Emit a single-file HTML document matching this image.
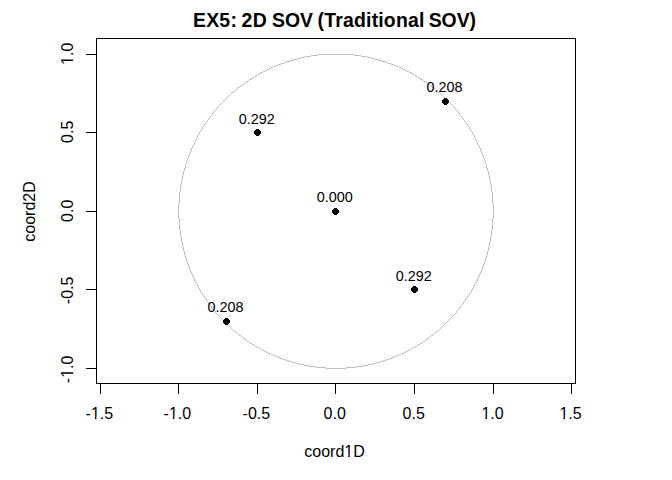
<!DOCTYPE html>
<html><head><meta charset="utf-8">
<style>
html,body{margin:0;padding:0;background:#fff;}
svg{display:block;}
text{font-family:"Liberation Sans",Arial,sans-serif;fill:#000;}
</style></head>
<body>
<svg width="672" height="480" viewBox="0 0 672 480">
<rect x="0" y="0" width="672" height="480" fill="#fff"/>
<g font-size="19.45" font-weight="bold">
<text x="192.93" y="27" textLength="43.97" lengthAdjust="spacing">EX5:</text>
<text x="241.53" y="27" textLength="25.36" lengthAdjust="spacing">2D</text>
<text x="272.04" y="27">SOV</text>
<text x="317.6" y="27" textLength="106.77" lengthAdjust="spacing">(Traditional</text>
<text x="428.74" y="27" textLength="47.28" lengthAdjust="spacing">SOV)</text>
</g>
<g shape-rendering="crispEdges" stroke="#000" stroke-width="1" fill="none">
<rect x="96.5" y="38.5" width="479" height="345"/>
<path d="M100.5 384V394M178.5 384V394M257.5 384V394M335.5 384V394M414.5 384V394M493.5 384V394M571.5 384V394"/>
<path d="M86 54.5H96M86 132.5H96M86 211.5H96M86 289.5H96M86 368.5H96"/>
</g>
<g font-size="16" text-anchor="middle">
<text x="99.4" y="419">-1.5</text>
<text x="177.4" y="419">-1.0</text>
<text x="256.4" y="419">-0.5</text>
<text x="334.7" y="419">0.0</text>
<text x="413.7" y="419">0.5</text>
<text x="492.6" y="419">1.0</text>
<text x="570.6" y="419">1.5</text>
<text x="334.5" y="457">coord1D</text>
</g>
<g font-size="16" text-anchor="middle">
<text transform="translate(73,53.8) rotate(-90)">1.0</text>
<text transform="translate(73,131.8) rotate(-90)">0.5</text>
<text transform="translate(73,210.8) rotate(-90)">0.0</text>
<text transform="translate(73,290.4) rotate(-90)">-0.5</text>
<text transform="translate(73,369.4) rotate(-90)">-1.0</text>
<text transform="translate(35,211.5) rotate(-90)">coord2D</text>
</g>
<g fill="#fff" id="feet">
<path d="M90.78 416.70H94.88V420.00H90.78ZM96.45 416.70H100.31V420.00H96.45Z"/>
<path d="M168.78 416.70H172.88V420.00H168.78ZM174.45 416.70H178.31V420.00H174.45Z"/>
<path d="M481.32 416.70H485.42V420.00H481.32ZM486.99 416.70H490.85V420.00H486.99Z"/>
<path d="M559.32 416.70H563.42V420.00H559.32ZM564.99 416.70H568.85V420.00H564.99Z"/>
<path d="M344.12 454.70H348.22V458.00H344.12ZM349.79 454.70H353.65V458.00H349.79Z"/>
<path transform="translate(73,53.8) rotate(-90)" d="M-11.28 -2.30H-7.18V1.00H-11.28ZM-5.61 -2.30H-1.75V1.00H-5.61Z"/>
<path transform="translate(73,369.4) rotate(-90)" d="M-8.62 -2.30H-4.52V1.00H-8.62ZM-2.95 -2.30H0.91V1.00H-2.95Z"/>
</g>
<path fill="#bebebe" shape-rendering="crispEdges" d="M318 54h36v1h-36zM311 55h7v1h-7zM354 55h7v1h-7zM305 56h6v1h-6zM361 56h6v1h-6zM301 57h4v1h-4zM367 57h4v1h-4zM297 58h4v1h-4zM371 58h4v1h-4zM293 59h4v1h-4zM375 59h4v1h-4zM290 60h3v1h-3zM379 60h3v1h-3zM286 61h4v1h-4zM382 61h4v1h-4zM284 62h2v1h-2zM386 62h2v1h-2zM281 63h3v1h-3zM388 63h3v1h-3zM278 64h3v1h-3zM391 64h3v1h-3zM276 65h2v1h-2zM394 65h2v1h-2zM273 66h3v1h-3zM396 66h3v1h-3zM271 67h2v1h-2zM399 67h2v1h-2zM269 68h2v1h-2zM401 68h2v1h-2zM267 69h2v1h-2zM403 69h2v1h-2zM265 70h2v1h-2zM405 70h2v1h-2zM263 71h2v1h-2zM407 71h2v1h-2zM261 72h2v1h-2zM409 72h2v1h-2zM259 73h2v1h-2zM411 73h2v1h-2zM258 74h1v1h-1zM413 74h1v1h-1zM256 75h2v1h-2zM414 75h2v1h-2zM254 76h2v1h-2zM416 76h2v1h-2zM253 77h1v1h-1zM418 77h1v1h-1zM251 78h2v1h-2zM419 78h2v1h-2zM249 79h2v1h-2zM421 79h2v1h-2zM248 80h1v1h-1zM423 80h1v1h-1zM246 81h2v1h-2zM424 81h2v1h-2zM245 82h1v1h-1zM426 82h1v1h-1zM244 83h1v1h-1zM427 83h1v1h-1zM242 84h2v1h-2zM428 84h2v1h-2zM241 85h1v1h-1zM430 85h1v1h-1zM240 86h1v1h-1zM431 86h1v1h-1zM238 87h2v1h-2zM432 87h2v1h-2zM237 88h1v1h-1zM434 88h1v1h-1zM236 89h1v1h-1zM435 89h1v1h-1zM235 90h1v1h-1zM436 90h1v1h-1zM234 91h1v1h-1zM437 91h1v1h-1zM232 92h2v1h-2zM438 92h2v1h-2zM231 93h1v1h-1zM440 93h1v1h-1zM230 94h1v1h-1zM441 94h1v1h-1zM229 95h1v1h-1zM442 95h1v1h-1zM228 96h1v1h-1zM443 96h1v1h-1zM227 97h1v1h-1zM444 97h1v1h-1zM226 98h1v1h-1zM445 98h1v1h-1zM225 99h1v1h-1zM446 99h1v1h-1zM224 100h1v1h-1zM447 100h1v1h-1zM223 101h1v1h-1zM448 101h1v1h-1zM222 102h1v1h-1zM449 102h1v1h-1zM221 103h1v1h-1zM450 103h1v1h-1zM220 104h1v1h-1zM451 104h1v1h-1zM219 105h1v1h-1zM452 105h1v1h-1zM218 106h1v1h-1zM453 106h1v1h-1zM217 107h1v1h-1zM454 107h1v1h-1zM217 108h1v1h-1zM454 108h1v1h-1zM216 109h1v1h-1zM455 109h1v1h-1zM215 110h1v1h-1zM456 110h1v1h-1zM214 111h1v1h-1zM457 111h1v1h-1zM213 112h1v1h-1zM458 112h1v1h-1zM212 113h1v1h-1zM459 113h1v1h-1zM212 114h1v1h-1zM459 114h1v1h-1zM211 115h1v1h-1zM460 115h1v1h-1zM210 116h1v1h-1zM461 116h1v1h-1zM209 117h1v1h-1zM462 117h1v1h-1zM209 118h1v1h-1zM462 118h1v1h-1zM208 119h1v1h-1zM463 119h1v1h-1zM207 120h1v1h-1zM464 120h1v1h-1zM206 121h1v1h-1zM465 121h1v1h-1zM206 122h1v1h-1zM465 122h1v1h-1zM205 123h1v1h-1zM466 123h1v1h-1zM204 124h1v1h-1zM467 124h1v1h-1zM204 125h1v1h-1zM467 125h1v1h-1zM203 126h1v1h-1zM468 126h1v1h-1zM202 127h1v1h-1zM469 127h1v1h-1zM202 128h1v1h-1zM469 128h1v1h-1zM201 129h1v1h-1zM470 129h1v1h-1zM201 130h1v1h-1zM470 130h1v1h-1zM200 131h1v1h-1zM471 131h1v1h-1zM199 132h1v1h-1zM472 132h1v1h-1zM199 133h1v1h-1zM472 133h1v1h-1zM198 134h1v1h-1zM473 134h1v1h-1zM198 135h1v1h-1zM473 135h1v1h-1zM197 136h1v1h-1zM474 136h1v1h-1zM197 137h1v1h-1zM474 137h1v1h-1zM196 138h1v1h-1zM475 138h1v1h-1zM196 139h1v1h-1zM475 139h1v1h-1zM195 140h1v1h-1zM476 140h1v1h-1zM195 141h1v1h-1zM476 141h1v1h-1zM194 142h1v1h-1zM477 142h1v1h-1zM194 143h1v1h-1zM477 143h1v1h-1zM193 144h1v1h-1zM478 144h1v1h-1zM193 145h1v1h-1zM478 145h1v1h-1zM192 146h1v1h-1zM479 146h1v1h-1zM192 147h1v1h-1zM479 147h1v1h-1zM191 148h1v1h-1zM480 148h1v1h-1zM191 149h1v1h-1zM480 149h1v1h-1zM191 150h1v1h-1zM480 150h1v1h-1zM190 151h1v1h-1zM481 151h1v1h-1zM190 152h1v1h-1zM481 152h1v1h-1zM189 153h1v1h-1zM482 153h1v1h-1zM189 154h1v1h-1zM482 154h1v1h-1zM189 155h1v1h-1zM482 155h1v1h-1zM188 156h1v1h-1zM483 156h1v1h-1zM188 157h1v1h-1zM483 157h1v1h-1zM187 158h1v1h-1zM484 158h1v1h-1zM187 159h1v1h-1zM484 159h1v1h-1zM187 160h1v1h-1zM484 160h1v1h-1zM186 161h1v1h-1zM485 161h1v1h-1zM186 162h1v1h-1zM485 162h1v1h-1zM186 163h1v1h-1zM485 163h1v1h-1zM185 164h1v1h-1zM486 164h1v1h-1zM185 165h1v1h-1zM486 165h1v1h-1zM185 166h1v1h-1zM486 166h1v1h-1zM185 167h1v1h-1zM486 167h1v1h-1zM184 168h1v1h-1zM487 168h1v1h-1zM184 169h1v1h-1zM487 169h1v1h-1zM184 170h1v1h-1zM487 170h1v1h-1zM183 171h1v1h-1zM488 171h1v1h-1zM183 172h1v1h-1zM488 172h1v1h-1zM183 173h1v1h-1zM488 173h1v1h-1zM183 174h1v1h-1zM488 174h1v1h-1zM182 175h1v1h-1zM489 175h1v1h-1zM182 176h1v1h-1zM489 176h1v1h-1zM182 177h1v1h-1zM489 177h1v1h-1zM182 178h1v1h-1zM489 178h1v1h-1zM182 179h1v1h-1zM489 179h1v1h-1zM181 180h1v1h-1zM490 180h1v1h-1zM181 181h1v1h-1zM490 181h1v1h-1zM181 182h1v1h-1zM490 182h1v1h-1zM181 183h1v1h-1zM490 183h1v1h-1zM181 184h1v1h-1zM490 184h1v1h-1zM180 185h1v1h-1zM491 185h1v1h-1zM180 186h1v1h-1zM491 186h1v1h-1zM180 187h1v1h-1zM491 187h1v1h-1zM180 188h1v1h-1zM491 188h1v1h-1zM180 189h1v1h-1zM491 189h1v1h-1zM180 190h1v1h-1zM491 190h1v1h-1zM180 191h1v1h-1zM491 191h1v1h-1zM179 192h1v1h-1zM492 192h1v1h-1zM179 193h1v1h-1zM492 193h1v1h-1zM179 194h1v1h-1zM492 194h1v1h-1zM179 195h1v1h-1zM492 195h1v1h-1zM179 196h1v1h-1zM492 196h1v1h-1zM179 197h1v1h-1zM492 197h1v1h-1zM179 198h1v1h-1zM492 198h1v1h-1zM179 199h1v1h-1zM492 199h1v1h-1zM179 200h1v1h-1zM492 200h1v1h-1zM179 201h1v1h-1zM492 201h1v1h-1zM179 202h1v1h-1zM492 202h1v1h-1zM179 203h1v1h-1zM492 203h1v1h-1zM178 204h1v1h-1zM493 204h1v1h-1zM178 205h1v1h-1zM493 205h1v1h-1zM178 206h1v1h-1zM493 206h1v1h-1zM178 207h1v1h-1zM493 207h1v1h-1zM178 208h1v1h-1zM493 208h1v1h-1zM178 209h1v1h-1zM493 209h1v1h-1zM178 210h1v1h-1zM493 210h1v1h-1zM178 211h1v1h-1zM493 211h1v1h-1zM178 212h1v1h-1zM493 212h1v1h-1zM178 213h1v1h-1zM493 213h1v1h-1zM178 214h1v1h-1zM493 214h1v1h-1zM178 215h1v1h-1zM493 215h1v1h-1zM178 216h1v1h-1zM493 216h1v1h-1zM178 217h1v1h-1zM493 217h1v1h-1zM179 218h1v1h-1zM492 218h1v1h-1zM179 219h1v1h-1zM492 219h1v1h-1zM179 220h1v1h-1zM492 220h1v1h-1zM179 221h1v1h-1zM492 221h1v1h-1zM179 222h1v1h-1zM492 222h1v1h-1zM179 223h1v1h-1zM492 223h1v1h-1zM179 224h1v1h-1zM492 224h1v1h-1zM179 225h1v1h-1zM492 225h1v1h-1zM179 226h1v1h-1zM492 226h1v1h-1zM179 227h1v1h-1zM492 227h1v1h-1zM179 228h1v1h-1zM492 228h1v1h-1zM179 229h1v1h-1zM492 229h1v1h-1zM180 230h1v1h-1zM491 230h1v1h-1zM180 231h1v1h-1zM491 231h1v1h-1zM180 232h1v1h-1zM491 232h1v1h-1zM180 233h1v1h-1zM491 233h1v1h-1zM180 234h1v1h-1zM491 234h1v1h-1zM180 235h1v1h-1zM491 235h1v1h-1zM180 236h1v1h-1zM491 236h1v1h-1zM181 237h1v1h-1zM490 237h1v1h-1zM181 238h1v1h-1zM490 238h1v1h-1zM181 239h1v1h-1zM490 239h1v1h-1zM181 240h1v1h-1zM490 240h1v1h-1zM181 241h1v1h-1zM490 241h1v1h-1zM182 242h1v1h-1zM489 242h1v1h-1zM182 243h1v1h-1zM489 243h1v1h-1zM182 244h1v1h-1zM489 244h1v1h-1zM182 245h1v1h-1zM489 245h1v1h-1zM182 246h1v1h-1zM489 246h1v1h-1zM183 247h1v1h-1zM488 247h1v1h-1zM183 248h1v1h-1zM488 248h1v1h-1zM183 249h1v1h-1zM488 249h1v1h-1zM183 250h1v1h-1zM488 250h1v1h-1zM184 251h1v1h-1zM487 251h1v1h-1zM184 252h1v1h-1zM487 252h1v1h-1zM184 253h1v1h-1zM487 253h1v1h-1zM184 254h1v1h-1zM487 254h1v1h-1zM185 255h1v1h-1zM486 255h1v1h-1zM185 256h1v1h-1zM486 256h1v1h-1zM185 257h1v1h-1zM486 257h1v1h-1zM186 258h1v1h-1zM485 258h1v1h-1zM186 259h1v1h-1zM485 259h1v1h-1zM186 260h1v1h-1zM485 260h1v1h-1zM187 261h1v1h-1zM484 261h1v1h-1zM187 262h1v1h-1zM484 262h1v1h-1zM187 263h1v1h-1zM484 263h1v1h-1zM188 264h1v1h-1zM483 264h1v1h-1zM188 265h1v1h-1zM483 265h1v1h-1zM188 266h1v1h-1zM483 266h1v1h-1zM189 267h1v1h-1zM482 267h1v1h-1zM189 268h1v1h-1zM482 268h1v1h-1zM190 269h1v1h-1zM481 269h1v1h-1zM190 270h1v1h-1zM481 270h1v1h-1zM190 271h1v1h-1zM481 271h1v1h-1zM191 272h1v1h-1zM480 272h1v1h-1zM191 273h1v1h-1zM480 273h1v1h-1zM192 274h1v1h-1zM479 274h1v1h-1zM192 275h1v1h-1zM479 275h1v1h-1zM193 276h1v1h-1zM478 276h1v1h-1zM193 277h1v1h-1zM478 277h1v1h-1zM194 278h1v1h-1zM477 278h1v1h-1zM194 279h1v1h-1zM477 279h1v1h-1zM194 280h1v1h-1zM477 280h1v1h-1zM195 281h1v1h-1zM476 281h1v1h-1zM195 282h1v1h-1zM476 282h1v1h-1zM196 283h1v1h-1zM475 283h1v1h-1zM197 284h1v1h-1zM474 284h1v1h-1zM197 285h1v1h-1zM474 285h1v1h-1zM198 286h1v1h-1zM473 286h1v1h-1zM198 287h1v1h-1zM473 287h1v1h-1zM199 288h1v1h-1zM472 288h1v1h-1zM199 289h1v1h-1zM472 289h1v1h-1zM200 290h1v1h-1zM471 290h1v1h-1zM200 291h1v1h-1zM471 291h1v1h-1zM201 292h1v1h-1zM470 292h1v1h-1zM202 293h1v1h-1zM469 293h1v1h-1zM202 294h1v1h-1zM469 294h1v1h-1zM203 295h1v1h-1zM468 295h1v1h-1zM204 296h1v1h-1zM467 296h1v1h-1zM204 297h1v1h-1zM467 297h1v1h-1zM205 298h1v1h-1zM466 298h1v1h-1zM206 299h1v1h-1zM465 299h1v1h-1zM206 300h1v1h-1zM465 300h1v1h-1zM207 301h1v1h-1zM464 301h1v1h-1zM208 302h1v1h-1zM463 302h1v1h-1zM208 303h1v1h-1zM463 303h1v1h-1zM209 304h1v1h-1zM462 304h1v1h-1zM210 305h1v1h-1zM461 305h1v1h-1zM211 306h1v1h-1zM460 306h1v1h-1zM211 307h1v1h-1zM460 307h1v1h-1zM212 308h1v1h-1zM459 308h1v1h-1zM213 309h1v1h-1zM458 309h1v1h-1zM214 310h1v1h-1zM457 310h1v1h-1zM215 311h1v1h-1zM456 311h1v1h-1zM215 312h1v1h-1zM456 312h1v1h-1zM216 313h1v1h-1zM455 313h1v1h-1zM217 314h1v1h-1zM454 314h1v1h-1zM218 315h1v1h-1zM453 315h1v1h-1zM219 316h1v1h-1zM452 316h1v1h-1zM220 317h1v1h-1zM451 317h1v1h-1zM221 318h1v1h-1zM450 318h1v1h-1zM222 319h1v1h-1zM449 319h1v1h-1zM223 320h1v1h-1zM448 320h1v1h-1zM224 321h1v1h-1zM447 321h1v1h-1zM225 322h1v1h-1zM446 322h1v1h-1zM226 323h1v1h-1zM445 323h1v1h-1zM227 324h1v1h-1zM444 324h1v1h-1zM228 325h1v1h-1zM443 325h1v1h-1zM229 326h1v1h-1zM442 326h1v1h-1zM230 327h1v1h-1zM441 327h1v1h-1zM231 328h1v1h-1zM440 328h1v1h-1zM232 329h1v1h-1zM439 329h1v1h-1zM233 330h1v1h-1zM438 330h1v1h-1zM234 331h2v1h-2zM436 331h2v1h-2zM236 332h1v1h-1zM435 332h1v1h-1zM237 333h1v1h-1zM434 333h1v1h-1zM238 334h1v1h-1zM433 334h1v1h-1zM239 335h2v1h-2zM431 335h2v1h-2zM241 336h1v1h-1zM430 336h1v1h-1zM242 337h1v1h-1zM429 337h1v1h-1zM243 338h2v1h-2zM427 338h2v1h-2zM245 339h1v1h-1zM426 339h1v1h-1zM246 340h1v1h-1zM425 340h1v1h-1zM247 341h2v1h-2zM423 341h2v1h-2zM249 342h1v1h-1zM422 342h1v1h-1zM250 343h2v1h-2zM420 343h2v1h-2zM252 344h2v1h-2zM418 344h2v1h-2zM254 345h1v1h-1zM417 345h1v1h-1zM255 346h2v1h-2zM415 346h2v1h-2zM257 347h2v1h-2zM413 347h2v1h-2zM259 348h2v1h-2zM411 348h2v1h-2zM261 349h1v1h-1zM410 349h1v1h-1zM262 350h2v1h-2zM408 350h2v1h-2zM264 351h2v1h-2zM406 351h2v1h-2zM266 352h2v1h-2zM404 352h2v1h-2zM268 353h3v1h-3zM401 353h3v1h-3zM271 354h2v1h-2zM399 354h2v1h-2zM273 355h2v1h-2zM397 355h2v1h-2zM275 356h2v1h-2zM395 356h2v1h-2zM277 357h3v1h-3zM392 357h3v1h-3zM280 358h3v1h-3zM389 358h3v1h-3zM283 359h3v1h-3zM386 359h3v1h-3zM286 360h3v1h-3zM383 360h3v1h-3zM289 361h3v1h-3zM380 361h3v1h-3zM292 362h4v1h-4zM376 362h4v1h-4zM296 363h3v1h-3zM373 363h3v1h-3zM299 364h5v1h-5zM368 364h5v1h-5zM304 365h5v1h-5zM363 365h5v1h-5zM309 366h7v1h-7zM356 366h7v1h-7zM316 367h10v1h-10zM346 367h10v1h-10zM326 368h20v1h-20z"/>
<path fill="#000" shape-rendering="crispEdges" d="M334 208h3v1h1v1h1v3h-1v1h-1v1h-3v-1h-1v-1h-1v-3h1v-1h1zM444 98h3v1h1v1h1v3h-1v1h-1v1h-3v-1h-1v-1h-1v-3h1v-1h1zM256 129h3v1h1v1h1v3h-1v1h-1v1h-3v-1h-1v-1h-1v-3h1v-1h1zM413 286h3v1h1v1h1v3h-1v1h-1v1h-3v-1h-1v-1h-1v-3h1v-1h1zM225 318h3v1h1v1h1v3h-1v1h-1v1h-3v-1h-1v-1h-1v-3h1v-1h1z"/>
<g font-size="14.4" text-anchor="middle">
<text x="334.75" y="202">0.000</text>
<text x="444.6" y="92">0.208</text>
<text x="256.7" y="124">0.292</text>
<text x="413.8" y="281">0.292</text>
<text x="225.5" y="312">0.208</text>
</g>
</svg>
</body></html>
